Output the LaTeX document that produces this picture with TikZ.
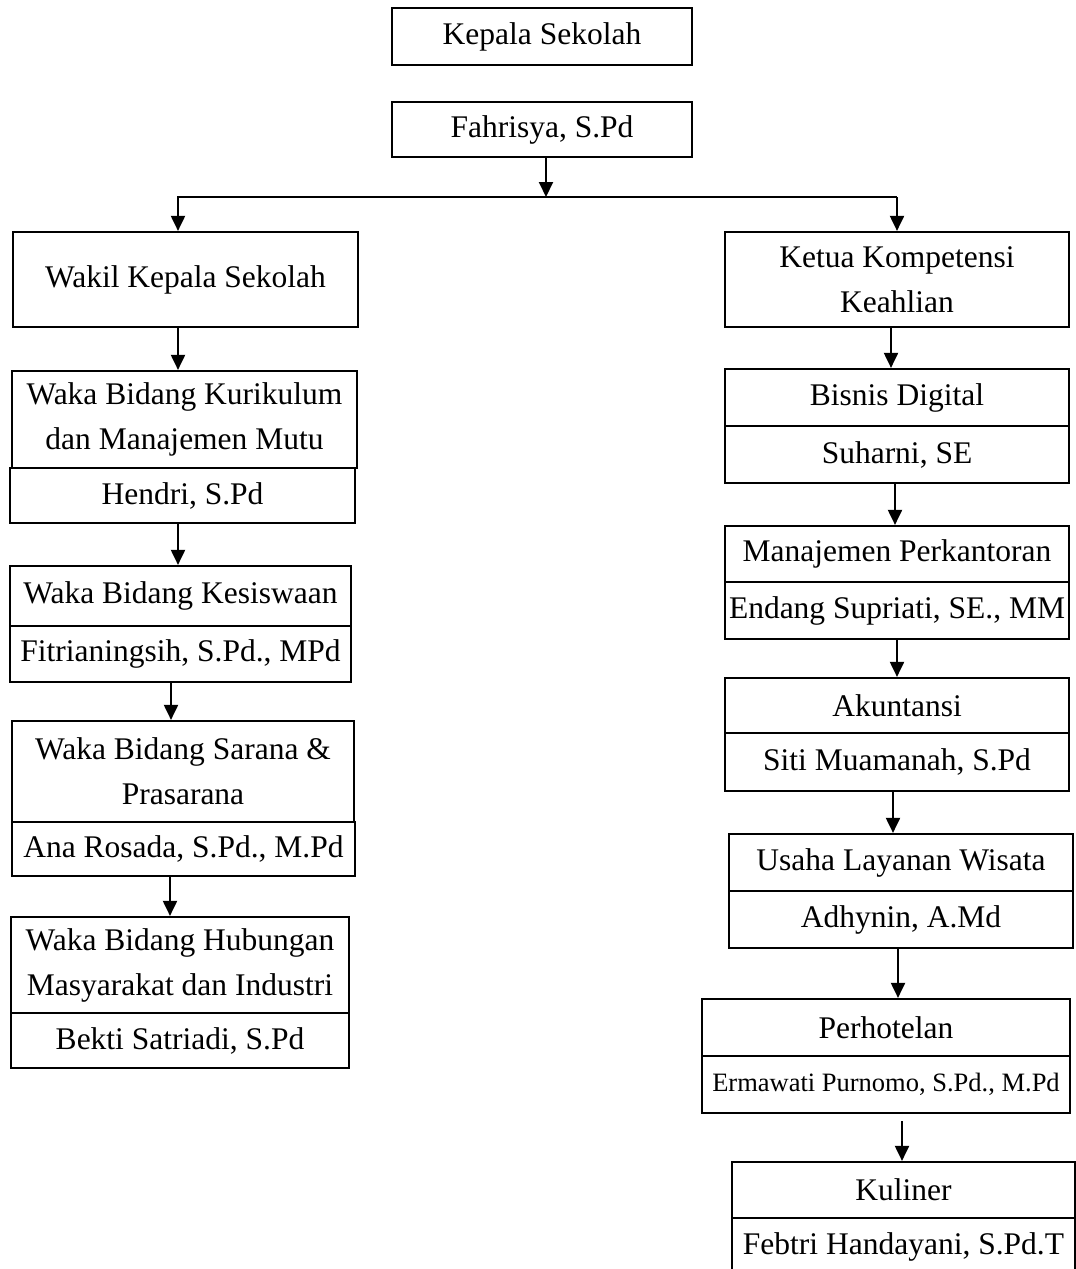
\documentclass[tikz,border=0pt]{standalone}
\usepackage{fontspec}
\setmainfont{Liberation Serif}
\usetikzlibrary{arrows.meta,calc}
\begin{document}
\begin{tikzpicture}[x=1pt,y=1pt,
  box/.style={draw, line width=2.2pt, inner sep=0pt, align=center,
    font=\fontsize{31.5}{45}\selectfont},
  arr/.style={line width=2pt, -{Triangle[length=15pt,width=14pt]}},
  conn/.style={line width=2pt}]
\useasboundingbox (0,0) rectangle (1076,-1269);
% top
\node[box, minimum width=300, minimum height=57] (kepala) at (542,-36.5) {Kepala Sekolah};
\node[box, minimum width=300, minimum height=55] (fahri) at (542,-129.5) {Fahrisya, S.Pd};
% left column
\node[box, minimum width=345, minimum height=95] (wakil) at (185.5,-279.5) {Wakil Kepala Sekolah};
\node[box, minimum width=345, minimum height=97] (kur) at (184.5,-419.5) {Waka Bidang Kurikulum\\dan Manajemen Mutu};
\node[box, minimum width=345, minimum height=55] (hendri) at (182.5,-495.5) {Hendri, S.Pd};
\node[box, minimum width=341, minimum height=60] (kes) at (180.5,-596) {Waka Bidang Kesiswaan};
\node[box, minimum width=341, minimum height=56] (fitri) at (180.5,-654) {Fitrianingsih, S.Pd., MPd};
\node[box, minimum width=342, minimum height=101] (sarana) at (183,-771.5) {Waka Bidang Sarana \&\\Prasarana};
\node[box, minimum width=343, minimum height=54] (ana) at (183.5,-849) {Ana Rosada, S.Pd., M.Pd};
\node[box, minimum width=338, minimum height=96] (hub) at (180,-965) {Waka Bidang Hubungan\\Masyarakat dan Industri};
\node[box, minimum width=338, minimum height=55] (bekti) at (180,-1040.5) {Bekti Satriadi, S.Pd};
% right column
\node[box, minimum width=344, minimum height=95] (ketua) at (897,-279.5) {Ketua Kompetensi\\Keahlian};
\node[box, minimum width=344, minimum height=57] (bisnis) at (897,-397.5) {Bisnis Digital};
\node[box, minimum width=344, minimum height=57] (suharni) at (897,-454.5) {Suharni, SE};
\node[box, minimum width=344, minimum height=56] (manaj) at (897,-554) {Manajemen Perkantoran};
\node[box, minimum width=344, minimum height=57] (endang) at (897,-610.5) {Endang Supriati, SE., MM};
\node[box, minimum width=344, minimum height=55] (akun) at (897,-705.5) {Akuntansi};
\node[box, minimum width=344, minimum height=58] (siti) at (897,-762) {Siti Muamanah, S.Pd};
\node[box, minimum width=344, minimum height=57] (usaha) at (901,-862.5) {Usaha Layanan Wisata};
\node[box, minimum width=344, minimum height=57] (adhy) at (901,-919.5) {Adhynin, A.Md};
\node[box, minimum width=368, minimum height=57] (perho) at (886,-1027.5) {Perhotelan};
\node[box, minimum width=368, minimum height=57, font=\fontsize{26.5}{32}\selectfont] (erma) at (886,-1084.5) {Ermawati Purnomo, S.Pd., M.Pd};
\node[box, minimum width=343, minimum height=56] (kul) at (903.5,-1190) {Kuliner};
\node[box, minimum width=343, minimum height=57] (febtri) at (903.5,-1246.5) {Febtri Handayani, S.Pd.T};
% branching
\coordinate (junc) at (546,-197);
\coordinate (jl) at (177,-197);
\coordinate (jr) at (897,-197);
\draw[arr] ([xshift=4pt]fahri.south) -- (junc);
\draw[conn] (jl) -- (jr);
\draw[arr] ([xshift=1pt]jl) -- ([xshift=1pt]jl |- wakil.north);
\draw[arr] (jr) -- (jr |- ketua.north);
% left chain
\draw[arr] ([xshift=-7.5pt]wakil.south) -- ([xshift=-7.5pt]wakil.south |- kur.north);
\draw[arr] ([xshift=-4.5pt]hendri.south) -- ([xshift=-4.5pt]hendri.south |- kes.north);
\draw[arr] ([xshift=-9.5pt]fitri.south) -- ([xshift=-9.5pt]fitri.south |- sarana.north);
\draw[arr] ([xshift=-13.5pt]ana.south) -- ([xshift=-13.5pt]ana.south |- hub.north);
% right chain
\draw[arr] ([xshift=-6pt]ketua.south) -- ([xshift=-6pt]ketua.south |- bisnis.north);
\draw[arr] ([xshift=-2pt]suharni.south) -- ([xshift=-2pt]suharni.south |- manaj.north);
\draw[arr] (endang.south) -- (endang.south |- akun.north);
\draw[arr] ([xshift=-4pt]siti.south) -- ([xshift=-4pt]siti.south |- usaha.north);
\draw[arr] ([xshift=-3pt]adhy.south) -- ([xshift=-3pt]adhy.south |- perho.north);
\draw[arr] ([xshift=16pt,yshift=-7pt]erma.south) -- ([xshift=16pt]erma.south |- kul.north);
\end{tikzpicture}
\end{document}
